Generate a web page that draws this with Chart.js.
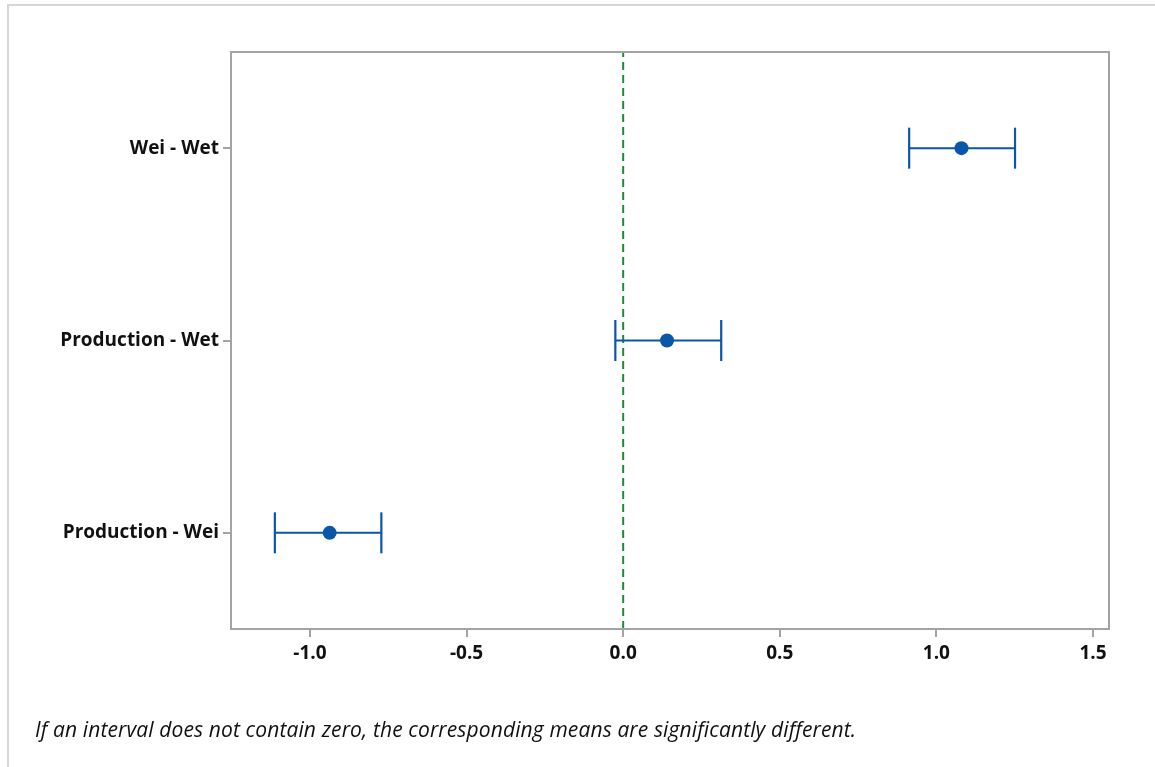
<!DOCTYPE html>
<html>
<head>
<meta charset="utf-8">
<script src="https://cdn.jsdelivr.net/npm/chart.js@4.4.1/dist/chart.umd.min.js"></script>
<style>
  html, body { margin: 0; padding: 0; background: #fff; }
  body { width: 1155px; height: 767px; position: relative; overflow: hidden; }
  #frame { position: absolute; left: 7px; top: 4px; width: 1160px; height: 780px;
           border-top: 2px solid #d6d6d6; border-left: 2px solid #d6d6d6; }
  #wrap { position: absolute; left: 0; top: 0; width: 1155px; height: 767px; }
  #note { position: absolute; left: 35px; top: 715px; font-family: "Open Sans", sans-serif;
          font-style: italic; font-size: 21px; letter-spacing: 0.12px; color: #111; white-space: nowrap; }
</style>
</head>
<body>
<div id="frame"></div>
<div id="wrap"><canvas id="c" width="1155" height="767"></canvas></div>
<div id="note">If an interval does not contain zero, the corresponding means are significantly different.</div>
<script>
// Tukey simultaneous 95% CIs for differences of means
const comparisons = ["Wei - Wet", "Production - Wet", "Production - Wei"];
const rowPos      = [3, 2, 1];
const diffMeans   = [1.080, 0.140, -0.937];
const lowerCI     = [0.913, -0.025, -1.112];
const upperCI     = [1.251, 0.313, -0.772];
const xTicks      = [-1.0, -0.5, 0.0, 0.5, 1.0, 1.5];

const BLUE = "#0a56a8";
const GREEN = "#1e8c35";
const AXIS = "#a3a3a3";

const datasets = [];
// reference line at zero
datasets.push({
  type: "line",
  data: [{ x: 0, y: 0.5 }, { x: 0, y: 3.5 }],
  borderColor: GREEN, borderWidth: 2, borderDash: [8, 5],
  pointRadius: 0, showLine: true, order: 3
});
// interval whiskers with vertical end caps
comparisons.forEach((name, i) => {
  datasets.push({
    type: "line",
    label: name,
    data: [{ x: lowerCI[i], y: rowPos[i] }, { x: upperCI[i], y: rowPos[i] }],
    borderColor: BLUE, borderWidth: 2, showLine: true,
    pointStyle: "line", rotation: 90, pointRadius: 20.5,
    pointBorderColor: BLUE, pointBorderWidth: 2.2, pointHoverRadius: 20.5,
    order: 2
  });
});
// estimated differences
datasets.push({
  type: "scatter",
  data: diffMeans.map((v, i) => ({ x: v, y: rowPos[i] })),
  backgroundColor: BLUE, borderColor: BLUE, borderWidth: 0,
  pointRadius: 7, pointHoverRadius: 7, order: 1
});

// outline of the full plotting region
const boxPlugin = {
  id: "box",
  afterDraw(chart) {
    const { ctx, chartArea: a } = chart;
    ctx.save();
    ctx.strokeStyle = AXIS;
    ctx.lineWidth = 2;
    ctx.strokeRect(a.left, a.top, a.right - a.left, a.bottom - a.top);
    ctx.restore();
  }
};

const tickFont = { family: "'Open Sans', sans-serif", size: 19, weight: "bold" };

new Chart(document.getElementById("c"), {
  type: "scatter",
  data: { datasets },
  plugins: [boxPlugin],
  options: {
    responsive: false,
    animation: false,
    events: [],
    layout: { padding: { left: 0, top: 52, right: 46, bottom: 0 } },
    plugins: { legend: { display: false }, tooltip: { enabled: false } },
    scales: {
      x: {
        type: "linear",
        min: -1.252, max: 1.551,
        afterBuildTicks: s => { s.ticks = xTicks.map(v => ({ value: v })); },
        afterFit: s => { s.height = 138; },
        ticks: {
          callback: v => Number(v).toFixed(1),
          color: "#111", font: tickFont, padding: 5, maxRotation: 0, autoSkip: false
        },
        grid: { drawOnChartArea: false, drawTicks: true, tickLength: 8, color: AXIS, lineWidth: 2 },
        border: { color: AXIS, width: 2 }
      },
      y: {
        type: "linear",
        min: 0.5, max: 3.5,
        afterBuildTicks: s => { s.ticks = rowPos.map(v => ({ value: v })); },
        afterFit: s => { s.width = 231; },
        ticks: {
          callback: v => comparisons[rowPos.indexOf(v)] || "",
          color: "#111", font: tickFont, padding: 4, autoSkip: false
        },
        grid: { drawOnChartArea: false, drawTicks: true, tickLength: 8, color: AXIS, lineWidth: 2 },
        border: { color: AXIS, width: 2 }
      }
    }
  }
});
</script>
</body>
</html>
